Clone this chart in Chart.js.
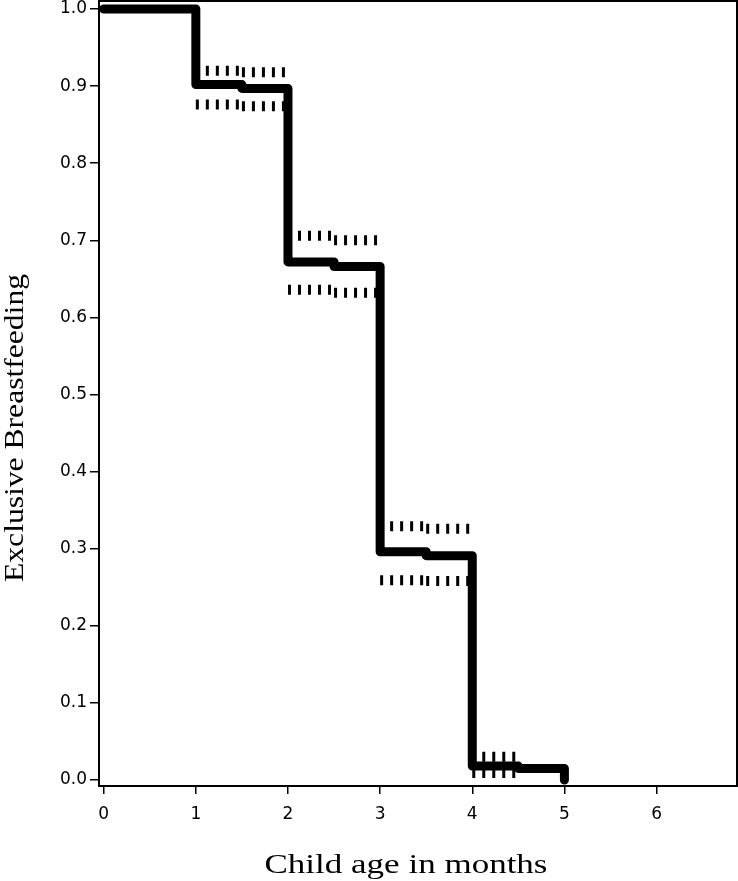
<!DOCTYPE html>
<html>
<head>
<meta charset="utf-8">
<script src="https://cdn.jsdelivr.net/npm/chart.js@4/dist/chart.umd.min.js"></script>
<style>
  html, body { margin: 0; padding: 0; background: #fff; }
  #wrap { width: 738px; height: 881px; }
</style>
</head>
<body>
<div id="wrap"><canvas id="kmChart"></canvas></div>
<script>
// Kaplan-Meier estimate
const months = [0, 1, 1.5, 2, 2.5, 3, 3.5, 4, 4.5, 5];
const survival = [1.0, 0.902, 0.897, 0.672, 0.666, 0.296, 0.291, 0.018, 0.015, 0.0];

// confidence band, one value per half-month interval
const bandStart = [1, 1.5, 2, 2.5, 3, 3.5, 4];
const bandEnd = [1.5, 2, 2.5, 3, 3.5, 4, 4.5];
const upperBand = [0.920, 0.918, 0.706, 0.700, 0.329, 0.326, 0.030];
const lowerBand = [0.876, 0.874, 0.636, 0.632, 0.259, 0.258, 0.009];

const xTicks = [0, 1, 2, 3, 4, 5, 6];
const yTicks = [0, 0.1, 0.2, 0.3, 0.4, 0.5, 0.6, 0.7, 0.8, 0.9, 1.0];

const xTitle = "Child age in months";
const yTitle = "Exclusive Breastfeeding";

function bandPoints(vals) {
  const pts = [];
  vals.forEach((v, i) => {
    pts.push({ x: bandStart[i], y: v });
    pts.push({ x: bandEnd[i], y: v });
    pts.push({ x: bandEnd[i], y: null });
  });
  return pts;
}

const framePlugin = {
  id: "frame",
  afterDatasetsDraw(chart) {
    const { ctx, chartArea: a } = chart;
    ctx.save();
    ctx.strokeStyle = "#000";
    ctx.lineWidth = 2;
    ctx.strokeRect(a.left, a.top, a.right - a.left, a.bottom - a.top);
    ctx.restore();
  },
  afterDraw(chart) {
    const ctx = chart.ctx;
    ctx.save();
    ctx.fillStyle = "#000";
    ctx.textAlign = "center";
    ctx.textBaseline = "alphabetic";
    // x title (the picture is stretched sideways a bit)
    ctx.font = "27px 'Liberation Serif', 'Times New Roman', serif";
    let w = ctx.measureText(xTitle).width;
    ctx.save();
    ctx.translate(406, 873);
    ctx.scale(283 / w, 1);
    ctx.fillText(xTitle, 0, 0);
    ctx.restore();
    // y title
    ctx.font = "23px 'Liberation Serif', 'Times New Roman', serif";
    w = ctx.measureText(yTitle).width;
    ctx.save();
    ctx.translate(23, 428);
    ctx.rotate(-Math.PI / 2);
    ctx.scale(308 / w, 1.15);
    ctx.fillText(yTitle, 0, 0);
    ctx.restore();
    ctx.restore();
  }
};

new Chart(document.getElementById("kmChart"), {
  type: "line",
  data: {
    datasets: [
      {
        label: "Survival",
        data: months.map((m, i) => ({ x: m, y: survival[i] })),
        stepped: "before",
        borderColor: "#000",
        borderWidth: 9,
        borderCapStyle: "round",
        borderJoinStyle: "round",
        pointRadius: 0,
        fill: false,
        order: 0
      },
      {
        label: "Upper",
        data: bandPoints(upperBand),
        borderColor: "#000",
        borderWidth: 10,
        borderDash: [3, 7],
        borderCapStyle: "butt",
        pointRadius: 0,
        spanGaps: false,
        fill: false,
        order: 1
      },
      {
        label: "Lower",
        data: bandPoints(lowerBand),
        borderColor: "#000",
        borderWidth: 10,
        borderDash: [3, 7],
        borderCapStyle: "butt",
        pointRadius: 0,
        spanGaps: false,
        fill: false,
        order: 1
      }
    ]
  },
  options: {
    responsive: true,
    maintainAspectRatio: false,
    animation: false,
    layout: { padding: { top: 1, right: 1, left: 0, bottom: 0 } },
    plugins: {
      legend: { display: false },
      tooltip: { enabled: false }
    },
    scales: {
      x: {
        type: "linear",
        min: -0.051,
        max: 6.873,
        afterBuildTicks: s => { s.ticks = xTicks.map(v => ({ value: v })); },
        afterFit: s => { s.height = 95; s.paddingLeft = 0; s.paddingRight = 0; },
        border: { display: false },
        grid: { drawOnChartArea: false, drawTicks: true, tickLength: 8, color: "#000", lineWidth: 1.5 },
        ticks: {
          color: "#000",
          padding: 10,
          maxRotation: 0,
          font: { family: "'DejaVu Sans', sans-serif", size: 17 }
        }
      },
      y: {
        type: "linear",
        min: -0.0078,
        max: 1.0104,
        afterBuildTicks: s => { s.ticks = yTicks.map(v => ({ value: v })); },
        afterFit: s => { s.width = 99; s.paddingTop = 0; s.paddingBottom = 0; },
        border: { display: false },
        grid: { drawOnChartArea: false, drawTicks: true, tickLength: 9, color: "#000", lineWidth: 1.5 },
        ticks: {
          color: "#000",
          padding: 3,
          callback: v => v.toFixed(1),
          font: { family: "'DejaVu Sans', sans-serif", size: 17 }
        }
      }
    }
  },
  plugins: [framePlugin]
});
</script>
</body>
</html>
